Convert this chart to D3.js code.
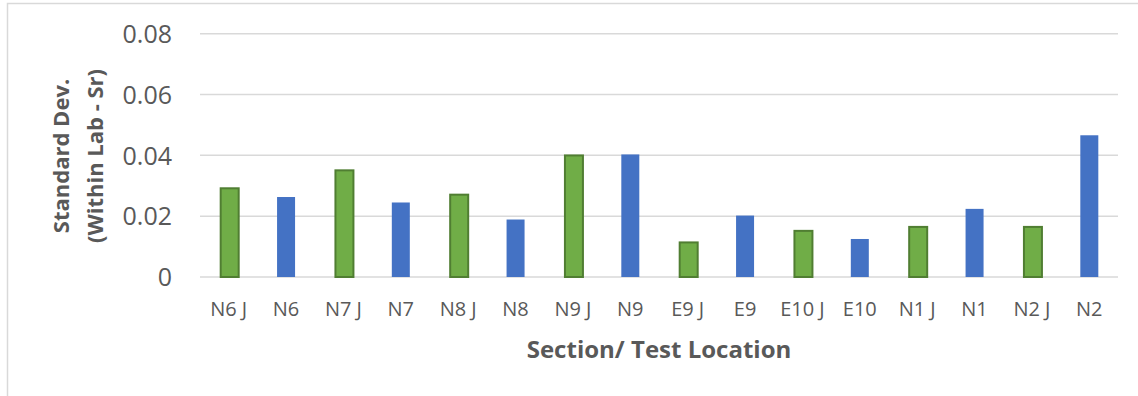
<!DOCTYPE html>
<html><head><meta charset="utf-8">
<script src="https://cdn.jsdelivr.net/npm/d3@7"></script>
<style>body{margin:0;background:#fff}svg{display:block}</style>
</head><body>
<svg id="c" width="1138" height="396"></svg>
<script>
const categories = ["N6 J","N6","N7 J","N7","N8 J","N8","N9 J","N9","E9 J","E9","E10 J","E10","N1 J","N1","N2 J","N2"];
const values = [0.0295,0.0263,0.0354,0.0245,0.0274,0.0189,0.0403,0.0403,0.0117,0.0202,0.0155,0.0125,0.0168,0.0224,0.0168,0.0466];
const groups = ["J","","J","","J","","J","","J","","J","","J","","J",""];
const yTicks = [0,0.02,0.04,0.06,0.08];
const yTickLabels = ["0","0.02","0.04","0.06","0.08"];
const yTitle = ["Standard Dev.","(Within Lab - Sr)"];
const xTitle = "Section/ Test Location";

const svg = d3.select("#c");
const mLeft = 200, mRight = 1118, mTop = 33.7, mBottom = 277;
const x = d3.scaleBand().domain(categories).range([mLeft,mRight]).paddingInner(0.66).paddingOuter(0.33);
const y = d3.scaleLinear().domain([0,0.08]).range([mBottom,mTop]);

// outer border (cropped)
svg.append("path").attr("d","M7.5,396 V3.5 H1138").attr("fill","none").attr("stroke","#d9d9d9").attr("stroke-width",1.5);

// gridlines
svg.append("g").selectAll("line").data(yTicks).join("line")
  .attr("x1",mLeft).attr("x2",mRight).attr("y1",d=>y(d)).attr("y2",d=>y(d))
  .attr("stroke","#d9d9d9").attr("stroke-width",1.5);

// y tick labels
const yAxis = d3.axisLeft(y).tickValues(yTicks).tickFormat((d,i)=>yTickLabels[i]).tickSize(0).tickPadding(28);
const ga = svg.append("g").attr("transform",`translate(${mLeft},0)`).call(yAxis);
ga.select(".domain").remove();
ga.selectAll("text").attr("font-family","Open Sans, sans-serif").attr("font-size",25).attr("fill","#595959").attr("dy","0.35em");

// bars
const bw = 18;
svg.append("g").selectAll("rect").data(categories).join("rect")
  .attr("x",(d,i)=>x(d)+x.bandwidth()/2-bw/2 + (groups[i]==="J"?1:0))
  .attr("y",(d,i)=>y(values[i]) + (groups[i]==="J"?1:0))
  .attr("width",bw)
  .attr("height",(d,i)=>mBottom-y(values[i]) - (groups[i]==="J"?1:0))
  .attr("fill",(d,i)=>groups[i]==="J"?"#70ad47":"#4472c4")
  .attr("stroke",(d,i)=>groups[i]==="J"?"#507e32":"none")
  .attr("stroke-width",2);

// x labels
svg.append("g").selectAll("text").data(categories).join("text")
  .attr("x",d=>x(d)+x.bandwidth()/2).attr("y",316)
  .attr("text-anchor","middle").attr("font-family","Open Sans, sans-serif").attr("font-size",20)
  .attr("fill","#595959").text(d=>d);

// x title
svg.append("text").attr("x",(mLeft+mRight)/2).attr("y",358).attr("text-anchor","middle")
  .attr("font-family","Open Sans, sans-serif").attr("font-weight","bold").attr("font-size",24)
  .attr("fill","#595959").text(xTitle);

// y title
const yt = svg.append("text").attr("transform","translate(0,156) rotate(-90)")
  .attr("text-anchor","middle").attr("font-family","Open Sans, sans-serif").attr("font-weight","bold")
  .attr("font-size",22).attr("fill","#595959");
yt.selectAll("tspan").data(yTitle).join("tspan").attr("x",0).attr("y",(d,i)=>69+i*34).text(d=>d);
</script>
</body></html>
